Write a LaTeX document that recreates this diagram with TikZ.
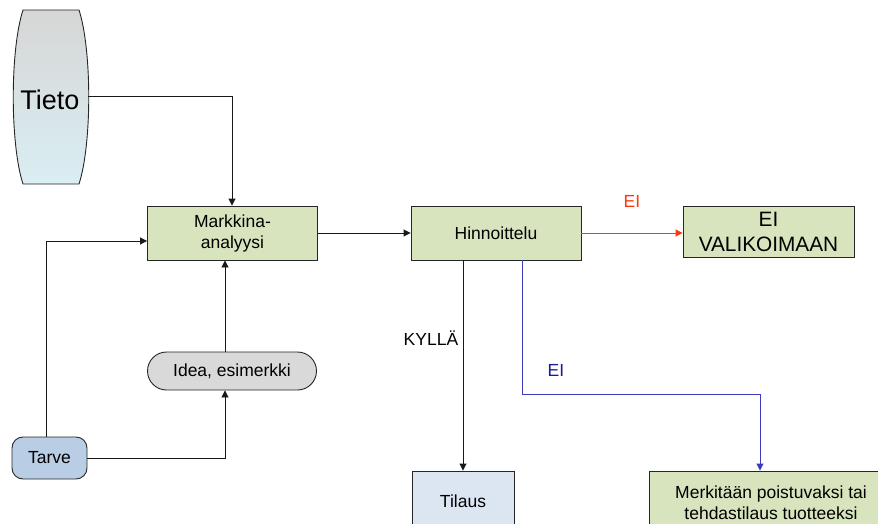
\documentclass[tikz,border=0pt]{standalone}
\usepackage{fontspec}
\setmainfont{Liberation Sans}
\usetikzlibrary{arrows.meta}
\definecolor{boxgreen}{RGB}{215,228,189}
\definecolor{boxblue}{RGB}{220,230,242}
\definecolor{needblue}{RGB}{185,205,229}
\definecolor{ideagray}{RGB}{217,217,217}
\definecolor{drumtop}{RGB}{214,214,214}
\definecolor{drumbot}{RGB}{218,238,243}
\definecolor{noline}{RGB}{255,55,15}
\definecolor{eiline}{RGB}{60,60,185}
\definecolor{eitext}{RGB}{25,25,160}
\tikzset{
  txt/.style={font=\fontsize{17.5}{21}\selectfont},
  box/.style={txt, draw=black!85, line width=0.9pt, inner sep=0pt, align=center},
  conn/.style={draw=black!90, line width=0.9pt, -{Triangle[length=7pt,width=7pt]}},
}
\begin{document}
\begin{tikzpicture}[x=1pt,y=-1pt]
\useasboundingbox (0,0) rectangle (878,524);
\clip (0,0) rectangle (878,524);

% stored information drum
\shade[top color=drumtop, bottom color=drumbot, draw=black!85, line width=0.9pt]
  (23,10) -- (79,10) .. controls (92,50) and (92,144) .. (79,184)
  -- (23,184) .. controls (10,144) and (10,50) .. (23,10) -- cycle;
\node[font=\fontsize{27}{32}\selectfont] (tieto) at (50,100) {Tieto};
\coordinate (tietoE) at (88,96);

% process boxes
\node[box, fill=boxgreen, minimum width=170pt, minimum height=54pt] (markkina) at (232.5,233) {Markkina-\\analyysi};
\node[box, fill=boxgreen, minimum width=170pt, minimum height=54pt] (hinn) at (496,233) {Hinnoittelu};
\node[box, fill=boxgreen, minimum width=171pt, minimum height=51pt,
      font=\fontsize{20.8}{25}\selectfont] (eival) at (768.5,231.5) {EI\\VALIKOIMAAN};
\node[box, fill=ideagray, minimum width=169pt, minimum height=38pt, rounded corners=19pt] (idea) at (232,371) {Idea, esimerkki};
\node[box, fill=needblue, minimum width=75pt, minimum height=42pt, rounded corners=11pt] (tarve) at (49.5,458) {Tarve};
\node[box, fill=boxblue, minimum width=102pt, minimum height=60pt] (tilaus) at (463,501) {Tilaus};
\node[box, fill=boxgreen, minimum width=244pt, minimum height=64pt] (merk) at (771,503) {Merkitään poistuvaksi tai\\tehdastilaus tuotteeksi};

% connectors
\draw[conn] (tietoE) -| (markkina.north -| 232,0);
\draw[conn] (tarve.north -| 46,0) |- ([yshift=-8pt]markkina.west);
\draw[conn] (tarve.east) -| (idea.south -| 225,0);
\draw[conn] (idea.north -| 225,0) -- (markkina.south -| 225,0);
\draw[conn] (markkina.east) -- (hinn.west);
\draw[conn, draw=noline] (hinn.east) -- (hinn.east -| eival.west)
  node[midway, above=22pt, text=noline, txt] {EI};
\draw[conn] (tilaus.north |- hinn.south) -- node[pos=0.37, left=1pt, txt] (kylla) {KYLLÄ} (tilaus.north);
\coordinate (eiturn) at (760,394);
\draw[conn, draw=eiline] (hinn.south -| 522,0) |- (eiturn) -- (eiturn |- merk.north);
\node[txt, text=eitext] (eilabel) at (556,370) {EI};
\end{tikzpicture}
\end{document}
